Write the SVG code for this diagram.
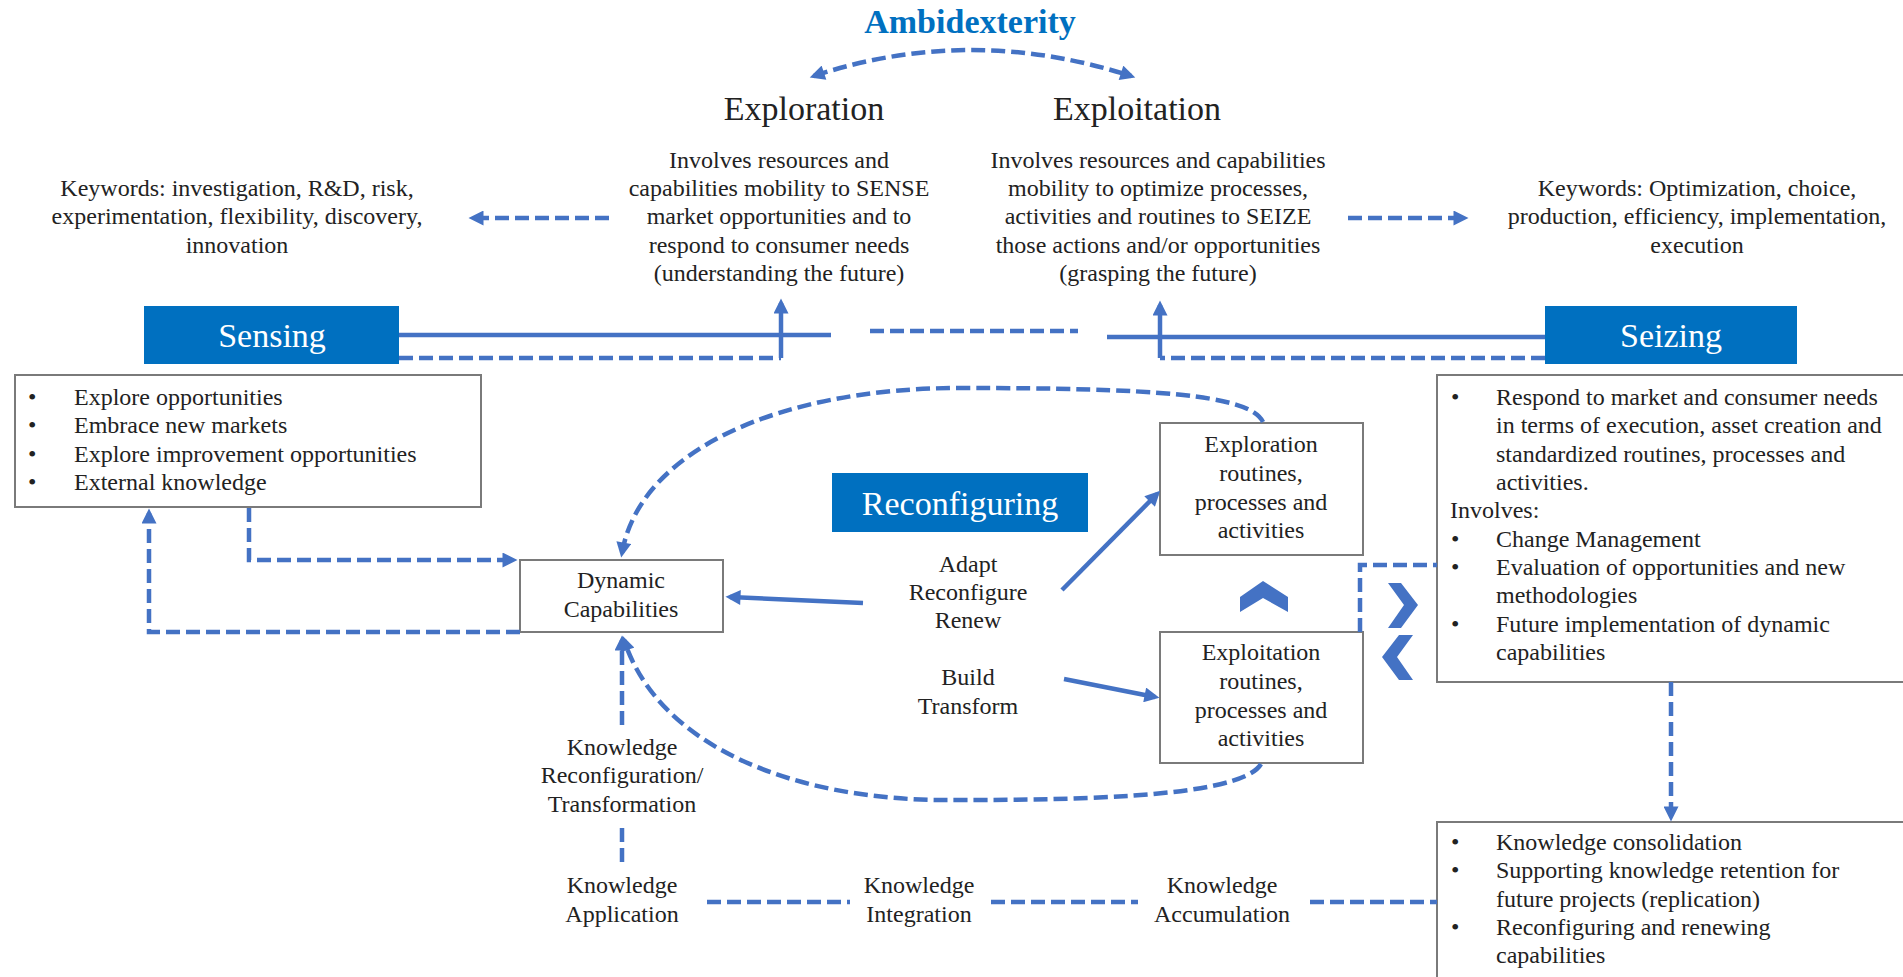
<svg xmlns="http://www.w3.org/2000/svg" width="1903" height="977" viewBox="0 0 1903 977">
  <style>
    text { font-family: "Liberation Serif", "Times New Roman", serif; fill: #222222; font-size: 24px; }
    .c { text-anchor: middle; }
    .title { font-size: 34px; }
    .white { fill: #ffffff; font-size: 34px; text-anchor: middle; }
    .amb { font-size: 34px; font-weight: bold; fill: #0070C0; text-anchor: middle; }
    .box { fill: #ffffff; stroke: #7a7a7a; stroke-width: 2; }
    .blue { fill: #0070C0; }
    .solid { fill: none; stroke: #4472C4; stroke-width: 4.5; }
    .dash { fill: none; stroke: #4472C4; stroke-width: 4.5; stroke-dasharray: 14 6; }
    .chev { fill: #4472C4; }
  </style>
  <defs>
    <marker id="ah" viewBox="0 0 10 10" refX="7" refY="5" markerWidth="16" markerHeight="15" markerUnits="userSpaceOnUse" orient="auto-start-reverse">
      <path d="M0,0 L10,5 L0,10 z" fill="#4472C4"/>
    </marker>
  </defs>

  <rect width="1903" height="977" fill="#ffffff"/>

  <!-- heading -->
  <g id="ambidexterity">
    <text class="amb" x="970" y="33">Ambidexterity</text>
  </g>

  <g id="exploration">
    <text class="title c" x="804" y="120">Exploration</text>
    <text class="c" x="779" y="168">Involves resources and</text>
    <text class="c" x="779" y="196">capabilities mobility to SENSE</text>
    <text class="c" x="779" y="224">market opportunities and to</text>
    <text class="c" x="779" y="253">respond to consumer needs</text>
    <text class="c" x="779" y="281">(understanding the future)</text>
  </g>

  <g id="exploitation">
    <text class="title c" x="1137" y="120">Exploitation</text>
    <text class="c" x="1158" y="168">Involves resources and capabilities</text>
    <text class="c" x="1158" y="196">mobility to optimize processes,</text>
    <text class="c" x="1158" y="224">activities and routines to SEIZE</text>
    <text class="c" x="1158" y="253">those actions and/or opportunities</text>
    <text class="c" x="1158" y="281">(grasping the future)</text>
  </g>

  <g id="keywords-exploration">
    <text class="c" x="237" y="196">Keywords: investigation, R&amp;D, risk,</text>
    <text class="c" x="237" y="224">experimentation,  flexibility, discovery,</text>
    <text class="c" x="237" y="253">innovation</text>
  </g>

  <g id="keywords-exploitation">
    <text class="c" x="1697" y="196">Keywords: Optimization,  choice,</text>
    <text class="c" x="1697" y="224">production, efficiency, implementation,</text>
    <text class="c" x="1697" y="253">execution</text>
  </g>

  <g id="sensing">
    <rect class="blue" x="144" y="306" width="255" height="58"/>
    <text class="white" x="272" y="347">Sensing</text>
  </g>

  <g id="seizing">
    <rect class="blue" x="1545" y="306" width="252" height="58"/>
    <text class="white" x="1671" y="347">Seizing</text>
  </g>

  <g id="reconfiguring">
    <rect class="blue" x="832" y="473" width="256" height="59"/>
    <text class="white" x="960" y="515">Reconfiguring</text>
  </g>

  <g id="sensing-list">
    <rect class="box" x="15" y="375" width="466" height="132"/>
    <text x="28" y="405">•</text><text x="74" y="405">Explore opportunities</text>
    <text x="28" y="433">•</text><text x="74" y="433">Embrace new markets</text>
    <text x="28" y="462">•</text><text x="74" y="462">Explore improvement  opportunities</text>
    <text x="28" y="490">•</text><text x="74" y="490">External  knowledge</text>
  </g>

  <g id="dynamic-capabilities">
    <rect class="box" x="520" y="560" width="203" height="72"/>
    <text class="c" x="621" y="588">Dynamic</text>
    <text class="c" x="621" y="617">Capabilities</text>
  </g>

  <g id="exploration-routines">
    <rect class="box" x="1160" y="423" width="203" height="132"/>
    <text class="c" x="1261" y="452">Exploration</text>
    <text class="c" x="1261" y="481">routines,</text>
    <text class="c" x="1261" y="510">processes and</text>
    <text class="c" x="1261" y="538">activities</text>
  </g>

  <g id="exploitation-routines">
    <rect class="box" x="1160" y="632" width="203" height="131"/>
    <text class="c" x="1261" y="660">Exploitation</text>
    <text class="c" x="1261" y="689">routines,</text>
    <text class="c" x="1261" y="718">processes and</text>
    <text class="c" x="1261" y="746">activities</text>
  </g>

  <g id="seizing-list">
    <rect class="box" x="1437" y="375" width="480" height="307"/>
    <text x="1451" y="405">•</text><text x="1496" y="405">Respond to market and consumer  needs</text>
    <text x="1496" y="433">in terms of execution,  asset creation and</text>
    <text x="1496" y="462">standardized routines, processes and</text>
    <text x="1496" y="490">activities.</text>
    <text x="1450" y="518">Involves:</text>
    <text x="1451" y="547">•</text><text x="1496" y="547">Change  Management</text>
    <text x="1451" y="575">•</text><text x="1496" y="575">Evaluation of opportunities  and new</text>
    <text x="1496" y="603">methodologies</text>
    <text x="1451" y="632">•</text><text x="1496" y="632">Future  implementation  of dynamic</text>
    <text x="1496" y="660">capabilities</text>
  </g>

  <g id="knowledge-list">
    <rect class="box" x="1437" y="822" width="480" height="170"/>
    <text x="1451" y="850">•</text><text x="1496" y="850">Knowledge consolidation</text>
    <text x="1451" y="878">•</text><text x="1496" y="878">Supporting  knowledge retention for</text>
    <text x="1496" y="907">future  projects (replication)</text>
    <text x="1451" y="935">•</text><text x="1496" y="935"> Reconfiguring  and renewing</text>
    <text x="1496" y="963">capabilities</text>
  </g>

  <g id="change-labels">
    <text class="c" x="968" y="572">Adapt</text>
    <text class="c" x="968" y="600">Reconfigure</text>
    <text class="c" x="968" y="628">Renew</text>
    <text class="c" x="968" y="685">Build</text>
    <text class="c" x="968" y="714">Transform</text>
  </g>

  <g id="knowledge-labels">
    <text class="c" x="622" y="755">Knowledge</text>
    <text class="c" x="622" y="783">Reconfiguration/</text>
    <text class="c" x="622" y="812">Transformation</text>
    <text class="c" x="622" y="893">Knowledge</text>
    <text class="c" x="622" y="922">Application</text>
    <text class="c" x="919" y="893">Knowledge</text>
    <text class="c" x="919" y="922">Integration</text>
    <text class="c" x="1222" y="893">Knowledge</text>
    <text class="c" x="1222" y="922">Accumulation</text>
  </g>

  <g id="chevrons">
    <polygon class="chev" points="1240,597 1263,581 1288,597 1288,612 1263,598 1240,612"/>
    <polygon class="chev" points="1388,583 1401,583 1418,605 1401,628 1388,628 1404,605"/>
    <polygon class="chev" points="1413,635 1399,635 1382,657 1399,680 1413,680 1397,657"/>
  </g>

  <g id="connectors">
    <!-- ambidexterity split -->
    <path class="dash" d="M 814 76 Q 970 24 1131 76" marker-start="url(#ah)" marker-end="url(#ah)"/>
    <!-- to keyword lists -->
    <path class="dash" d="M 609 218 L 473 218" marker-end="url(#ah)"/>
    <path class="dash" d="M 1348 218 L 1464 218" marker-end="url(#ah)"/>
    <!-- sensing links -->
    <path class="solid" d="M 399 335 L 831 335"/>
    <path class="dash" d="M 399 358 L 781 358"/>
    <path class="solid" d="M 781 358 L 781 303" marker-end="url(#ah)"/>
    <path class="dash" d="M 870 331 L 1078 331"/>
    <!-- seizing links -->
    <path class="solid" d="M 1107 337 L 1545 337"/>
    <path class="dash" d="M 1545 358 L 1160 358"/>
    <path class="solid" d="M 1160 358 L 1160 305" marker-end="url(#ah)"/>
    <!-- sensing list and dynamic capabilities -->
    <path class="dash" d="M 249 508 L 249 560 L 513 560" marker-end="url(#ah)"/>
    <path class="dash" d="M 520 632 L 149 632 L 149 513" marker-end="url(#ah)"/>
    <!-- reconfiguration loop -->
    <path class="dash" d="M 1263 422 C 1250 394 1150 388 960 388 C 780 388 640 450 622 553" marker-end="url(#ah)"/>
    <path class="dash" d="M 1261 764 C 1240 800 1050 800 945 800 C 800 800 660 750 624 640" marker-end="url(#ah)"/>
    <path class="dash" d="M 622 725 L 622 640" marker-end="url(#ah)"/>
    <path class="dash" d="M 622 828 L 622 867"/>
    <!-- change actions -->
    <path class="solid" d="M 863 603 L 730 597" marker-end="url(#ah)"/>
    <path class="solid" d="M 1062 590 L 1157 494" marker-end="url(#ah)"/>
    <path class="solid" d="M 1064 679 L 1155 697" marker-end="url(#ah)"/>
    <!-- routines to seizing list -->
    <path class="dash" d="M 1360 632 L 1360 565 L 1437 565"/>
    <path class="dash" d="M 1671 682 L 1671 817" marker-end="url(#ah)"/>
    <!-- knowledge chain -->
    <path class="dash" d="M 707 902 L 850 902"/>
    <path class="dash" d="M 991 902 L 1138 902"/>
    <path class="dash" d="M 1310 902 L 1437 902"/>
  </g>
</svg>
